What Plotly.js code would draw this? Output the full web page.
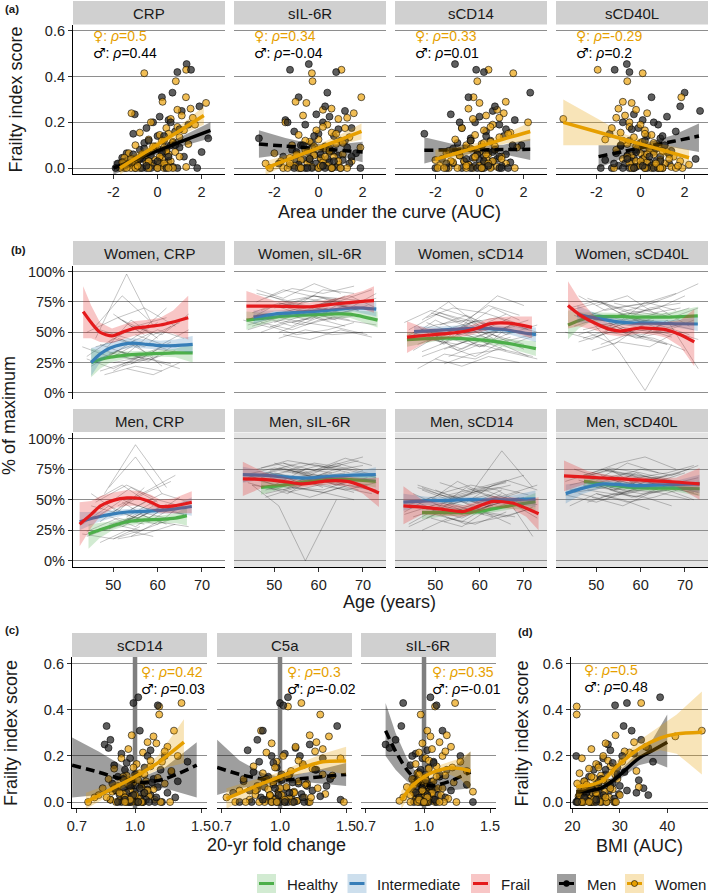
<!DOCTYPE html>
<html><head><meta charset="utf-8">
<script src="https://cdn.plot.ly/plotly-3.0.1.min.js"></script>
<style>html,body{margin:0;padding:0;background:#fff}#chart{width:709px;height:894px}</style>
</head><body><div id="chart"></div>
<script>
// ---------------- DATA ----------------
// Frailty index score per participant (shared by panels a, c, d)
const frailtyWomen = [0.43,0.415,0.38,0.31,0.29,0.285,0.26,0.255,0.24,0.23,
 0.215,0.20,0.19,0.175,0.165,0.155,0.145,0.135,0.125,0.115,
 0.105,0.10,0.09,0.085,0.08,0.07,0.065,0.06,0.055,0.05,
 0.045,0.04,0.035,0.03,0.03,0.025,0.02,0.02,0.015,0.01,
 0.01,0.005,0.0,0.0,0.0,0.0,0.0,0.0,0.0,0.0,
 0.22,0.18,0.15,0.12,0.11,0.095,0.075,0.06,0.05,0.04,0.03,0.02,0.01,0.0,0.0];
const frailtyMen = [0.455,0.43,0.42,0.33,0.31,0.25,0.235,0.225,0.21,0.20,
 0.19,0.175,0.16,0.15,0.14,0.13,0.12,0.11,0.10,0.095,
 0.09,0.08,0.075,0.07,0.065,0.06,0.055,0.05,0.045,0.04,
 0.04,0.035,0.03,0.03,0.025,0.02,0.02,0.015,0.01,0.01,
 0.005,0.0,0.0,0.0,0.0,0.0,0.0,0.0,0.0,0.0,
 0.27,0.2,0.17,0.14,0.12,0.1,0.085,0.07,0.06,0.05,0.04,0.03,0.02,0.01,0.0];

// (a) area under the curve, per marker
const aucMarkers = ['CRP','sIL-6R','sCD14','sCD40L'];
const aucCRPWomen = [1.3,-0.6,0.83,1.29,0.23,2.2,1.5,0.9,-1.18,1.1,0.6,-0.3,1.7,0.4,1.2,-0.8,0.1,1.0,-0.4,0.7,1.4,-1.0,0.3,0.0,-0.2,0.8,-1.3,0.5,-0.6,1.0,-1.5,0.2,-0.1,-0.9,0.6,-1.6,-0.5,0.1,-1.1,0.4,-0.3,1.3,-1.7,-1.2,-0.8,-0.4,0.0,0.3,-1.0,0.7,
 1.6,0.9,0.5,0.2,0.7,-0.2,0.4,-0.7,0.1,-1.2,-0.4,0.3,-0.9,-1.4,0.5];
const aucCRPMen = [1.32,1.52,0.9,0.68,0.2,1.1,-1.03,0.1,0.5,-0.2,1.4,-0.5,0.8,-1.1,0.0,2.3,0.3,-0.6,0.6,-0.1,1.0,-0.8,0.4,2.0,-1.4,0.2,-0.3,1.2,-1.6,-0.7,0.1,-1.0,0.5,-0.4,1.6,-1.8,-0.2,-1.2,0.3,-0.9,0.7,-1.5,-0.5,-1.0,0.0,-0.3,0.9,-1.9,1.8,-0.7,
 1.9,0.6,1.0,0.3,-0.4,0.8,-0.6,0.2,-1.1,0.5,-0.8,0.0,-1.3,-0.5,0.4];
const aucIL6RWomen = [1.04,-0.3,-0.27,1.94,-1.04,-0.55,0.59,0.2,1.6,-0.7,0.9,-1.5,0.4,1.2,-0.1,0.6,-0.9,1.4,0.0,-0.4,0.8,-1.2,1.9,0.3,-0.6,0.5,-2.0,1.1,-0.2,0.7,-1.3,0.1,-0.8,1.5,-1.7,0.2,-0.5,-2.4,0.9,-1.1,0.4,-0.3,-1.6,0.6,-0.9,1.3,-1.4,0.0,-2.2,1.0,
 1.3,0.2,0.8,-0.6,1.1,-0.2,0.5,-1.0,0.3,-0.4,0.9,-1.3,0.1,-0.8,0.6];
const aucIL6RMen = [-0.44,-1.29,0.8,0.4,-0.9,1.2,-0.1,0.5,-1.5,0.2,-0.6,1.5,-1.1,0.0,0.7,-2.7,1.0,-0.3,-0.8,0.3,1.3,-1.2,0.6,-0.5,1.7,-0.2,0.9,-1.6,0.1,-0.7,0.4,1.1,-1.0,-0.4,0.5,-0.1,1.4,-0.9,0.2,-1.3,0.8,-0.6,0.0,1.9,-0.3,0.6,-1.1,0.3,-0.8,1.0,
 0.3,-1.4,0.9,-0.2,1.2,-0.7,0.5,-1.0,0.1,1.5,-0.4,0.7,-1.8,0.2,-0.5];
const aucCD14Women = [0.41,1.53,-0.1,-0.27,1.19,0.0,-0.5,0.8,1.1,0.3,-0.3,2.2,0.6,-0.8,0.2,1.4,-0.2,0.9,-1.1,0.5,0.1,-0.6,1.7,-0.4,0.7,0.0,-1.5,0.4,-0.9,1.0,-0.2,0.3,-2.0,0.6,-0.7,-1.2,0.2,1.2,-0.5,0.0,-1.8,0.8,-0.3,-1.0,0.5,-1.4,0.1,1.6,-0.6,-1.9,
 0.9,0.5,1.3,-0.4,0.2,0.7,-0.9,0.3,-0.2,1.0,-1.3,0.4,-0.6,0.1,-1.6];
const aucCD14Men = [-1.11,-0.15,0.2,2.3,-0.5,0.6,-1.3,0.0,1.6,-0.2,0.9,-0.8,0.3,-2.5,1.1,-0.4,0.5,-1.0,1.9,0.1,-0.6,0.7,-1.4,0.4,-0.1,1.2,-0.9,0.2,-0.3,0.8,-1.7,0.0,0.6,-0.7,1.4,-1.2,0.3,-0.5,1.0,-0.2,0.5,-2.0,0.1,-0.8,0.9,-0.4,1.3,-1.5,0.2,-0.1,
 0.7,-0.9,1.2,0.3,-0.4,1.5,-1.2,0.6,-0.1,0.9,-0.6,0.2,-1.5,0.4,1.0];
const aucCD40LWomen = [-1.94,0.1,-0.6,1.85,-0.8,-0.4,-1.0,-0.2,0.3,-0.7,-3.5,-0.5,0.0,-1.3,0.2,-0.9,0.5,-0.3,-1.6,0.1,-0.6,0.8,-0.1,0.4,-1.1,1.2,0.0,0.6,-0.4,1.5,0.2,-0.8,0.9,1.8,-0.2,0.3,1.1,-0.5,2.2,0.7,0.0,1.4,-1.2,0.5,1.9,-0.3,0.8,1.6,0.2,1.0,
 -1.1,-0.5,0.2,-0.8,0.6,-0.2,1.0,0.3,-0.6,1.3,0.0,0.7,1.7,-0.4,0.9];
const aucCD40LMen = [-0.62,-1.17,-0.5,2.0,0.5,2.7,-0.3,1.2,0.1,-0.8,0.8,-0.1,1.6,-1.4,0.3,0.9,-0.5,0.0,1.1,-0.9,0.4,-0.2,1.4,0.6,-1.1,0.2,-0.6,0.9,-0.3,2.5,0.1,-1.6,0.7,-0.4,0.4,-0.7,1.3,0.0,-1.0,0.5,-0.2,0.8,-1.3,0.2,-0.5,1.0,-0.8,0.3,-1.8,0.6,
 1.8,0.6,-0.4,1.0,0.2,-0.9,0.7,-0.2,1.3,0.4,-0.6,0.9,-1.2,0.1,-0.3];
const rhoWomenAUC = ['0.5','0.34','0.33','-0.29'];
const rhoMenAUC = ['0.44','-0.04','0.01','0.2'];
// (a) fitted lines with confidence bands
const fitAucCRPWomen = {x:[-1.7,-0.75,0.2,1.15,2.1], y:[0.0,0.057,0.115,0.172,0.23], lo:[-0.03,0.037,0.1,0.148,0.19], hi:[0.03,0.077,0.13,0.196,0.27]};
const fitAucCRPMen = {x:[-2.0,-0.9,0.2,1.3,2.4], y:[0.0,0.041,0.083,0.124,0.165], lo:[-0.03,0.02,0.07,0.1,0.13], hi:[0.03,0.062,0.096,0.148,0.2]};
const fitAucIL6RWomen = {x:[-2.4,-1.3,-0.2,0.9,1.95], y:[0.0,0.04,0.081,0.121,0.16], lo:[-0.03,0.02,0.066,0.1,0.125], hi:[0.03,0.06,0.096,0.142,0.195]};
const fitAucIL6RMen = {x:[-2.7,-1.5,-0.35,0.8,2.0], y:[0.105,0.096,0.088,0.079,0.07], lo:[0.045,0.06,0.07,0.055,0.025], hi:[0.165,0.132,0.106,0.103,0.115]};
const fitAucCD14Women = {x:[-2.0,-0.9,0.15,1.2,2.3], y:[0.038,0.069,0.099,0.13,0.16], lo:[-0.005,0.045,0.083,0.108,0.12], hi:[0.08,0.093,0.115,0.152,0.2]};
const fitAucCD14Men = {x:[-2.5,-1.3,-0.1,1.1,2.3], y:[0.078,0.079,0.08,0.081,0.082], lo:[0.02,0.05,0.065,0.06,0.035], hi:[0.135,0.108,0.095,0.102,0.128]};
const fitAucCD40LWomen = {x:[-3.5,-2.1,-0.65,0.8,2.2], y:[0.2,0.162,0.123,0.084,0.045], lo:[0.1,0.1,0.1,0.06,0.01], hi:[0.3,0.224,0.146,0.108,0.08]};
const fitAucCD40LMen = {x:[-1.9,-0.75,0.4,1.5,2.65], y:[0.05,0.073,0.096,0.117,0.14], lo:[0.0,0.045,0.078,0.09,0.07], hi:[0.1,0.1,0.114,0.145,0.195]};

// (b) repeated measures: ages at visits and % of maximum
const womenAges = [[44,50,56,62],[45,51,57,63],[46,52,58,64],[47,53,59,66],[47,53,60,66],[48,54,60,67],[49,55,61,68],[50,56,62,69],[50,57,63,69],[51,57,63,70],[52,58,64,71],[53,59,65,72],[44,51,57,63],[46,52,59,65],[48,55,61,67],[49,55,62,68],[51,58,64,70],[52,59,65,71],[54,60,66,73],[55,61,67,73],
 [45,51,58,64],[47,54,60,67],[48,54,61,68],[50,56,63,70],[51,57,64,71],[53,60,66,73],[44,50,57,64],[46,53,59,66],[49,56,62,69],[52,58,65,72],[54,61,67,73],[43,49,55,62]];
const menAges = [[43,49,55,61],[44,50,57,63],[45,51,57,64],[46,52,58,65],[47,53,59,66],[47,54,60,66],[48,54,61,67],[49,55,61,68],[50,56,62,69],[50,57,63,70],[51,57,64,71],[52,58,65,72],[53,59,66,73],[44,50,56,62],[46,52,59,65],[48,55,61,68],[49,56,62,69],[51,58,64,70],[53,60,66,72],[54,60,67,73],
 [44,51,57,64],[45,52,58,65],[47,53,60,67],[48,55,62,68],[50,57,63,70],[51,58,64,71],[52,59,66,72],[53,60,66,73],[43,50,56,63],[46,53,59,66],[49,56,62,69],[54,61,67,73]];
const womenCRP = [[30,45,38],[22,35,28],[55,80,60],[40,32,50],[18,25,30],[35,60,45],[28,40,22],[65,50,70],[25,30,42],[45,38,55],[33,27,35],[20,15,25],[50,62,48],[38,44,30],[15,22,18],[42,55,62],[30,26,40],[60,48,58],[24,36,33],[48,40,52],
 [26,34,30],[52,44,58],[35,28,38],[18,30,24],[62,70,55],[40,52,45],[28,20,32],[45,98,55],[32,42,36],[22,28,20],[55,48,65],[38,30,44]];
const womenIL6R = [[60,72,65,70],[55,62,58,66],[75,85,80,78],[50,58,62,55],[68,75,70,80],[62,55,66,60],[80,72,85,82],[58,66,60,64],[70,78,74,68],[45,52,48,50],[65,60,72,70],[72,80,76,85],[52,60,56,62],[85,78,90,82],[60,66,70,64],[55,48,52,58],[74,70,78,76],[63,70,66,72],[58,64,60,56],[68,74,80,70],
 [66,74,70,76],[58,52,60,64],[78,86,82,88],[62,68,64,70],[50,58,54,48],[70,64,72,78],[56,62,68,60],[82,76,80,74],[64,70,74,68],[48,44,52,46],[72,78,70,82],[60,54,62,66]];
const womenCD14 = [[45,60,50,40],[35,48,55,42],[55,40,62,50],[30,38,45,35],[60,75,55,65],[42,50,38,46],[50,35,45,58],[28,22,30,25],[65,55,70,60],[40,52,48,36],[48,58,62,52],[38,30,42,48],[52,66,58,45],[20,32,28,38],[58,48,52,62],[44,40,50,55],[70,62,80,72],[36,45,40,30],[54,60,48,56],[46,38,56,50],
 [50,42,58,46],[34,44,38,50],[62,70,66,58],[44,36,48,40],[56,64,52,60],[30,40,34,28],[48,56,60,50],[40,50,46,54],[66,58,72,64],[24,32,36,30],[52,46,40,48],[58,68,62,56]];
const womenCD40L = [[70,60,65,58],[55,62,50,60],[80,68,72,75],[45,52,48,40],[62,70,58,66],[50,40,55,48],[65,58,75,68],[58,50,52,62],[72,80,66,70],[40,48,45,35],[60,66,70,55],[55,45,50,60],[68,75,62,58],[48,55,60,52],[62,35,2,40],[35,42,38,50],[75,65,70,80],[52,60,55,48],[58,46,60,20],[66,72,80,90],
 [64,56,60,66],[52,58,54,46],[78,70,74,82],[46,54,50,58],[60,66,62,70],[56,48,52,44],[70,76,68,64],[42,50,46,40],[66,60,70,74],[54,62,58,52],[74,68,62,70],[50,44,56,60]];
const menCRP = [[30,45,35],[20,28,40],[55,40,60],[35,50,42],[15,25,20],[42,60,48],[25,32,45],[60,85,55],[28,38,30],[40,55,65],[18,22,30],[48,35,52],[32,45,38],[22,30,25],[50,62,45],[38,28,42],[26,40,35],[45,58,70],[35,30,48],[20,32,28],
 [24,35,30],[45,38,50],[32,48,40],[55,95,60],[18,26,34],[40,32,45],[28,42,38],[36,50,44],[22,18,28],[48,62,52],[30,36,46],[42,55,48]];
const menIL6R = [[65,72,68,60],[70,62,75,72],[62,45,0,50],[75,80,72,78],[62,55,68,65],[68,74,70,62],[55,60,58,66],[72,65,70,70],[60,68,64,58],[80,72,78,85],[66,70,62,68],[58,52,60,55],[74,80,76,70],[64,58,66,72],[70,76,68,74],[52,60,56,50],[68,62,70,66],[76,70,80,74],[60,66,62,58],[72,78,74,68],
 [68,74,70,66],[62,58,64,70],[76,82,78,72],[58,64,62,56],[72,66,74,78],[64,70,66,62],[80,74,84,78],[56,62,58,64],[70,76,72,68],[66,60,68,72],[74,80,76,82],[60,56,62,58]];
const menCD14 = [[40,52,45,38],[30,42,50,45],[55,45,60,50],[48,38,42,55],[25,35,30,40],[60,50,58,65],[35,45,40,30],[50,65,55,48],[42,35,45,52],[58,48,62,70],[38,30,35,42],[45,55,90,60],[52,45,50,35],[28,38,32,45],[62,55,48,58],[44,50,40,36],[35,28,42,50],[55,62,58,45],[48,42,52,20],[40,48,55,62],
 [46,54,50,42],[36,44,40,48],[58,50,56,62],[42,48,54,46],[50,40,46,52],[64,56,60,54],[32,40,36,44],[54,60,66,58],[38,46,42,36],[60,52,58,64],[44,38,48,56],[52,58,50,46]];
const menCD40L = [[65,72,68,62],[58,62,55,60],[75,68,80,72],[55,50,58,65],[68,75,62,58],[62,58,66,70],[48,55,52,45],[72,80,85,75],[60,65,58,62],[55,48,52,60],[70,62,68,75],[64,70,60,56],[58,52,62,68],[45,55,50,42],[66,60,72,64],[62,68,65,58],[52,45,55,60],[75,70,65,72],[60,55,58,50],[68,75,70,78],
 [62,68,64,58],[56,60,52,58],[70,76,72,66],[58,54,60,64],[66,72,68,62],[52,58,56,50],[74,68,72,78],[60,66,62,56],[54,48,56,62],[68,74,70,66],[64,58,66,72],[58,64,60,54]];
// (b) smoothed trajectories by frailty group
const smoothWomenCRP = {
 healthy:{x:[45,47,49.3,52.5,56,60,64,67.9], y:[25,27.5,29.5,31,32,32.5,33,33], lo:[13,20,25,28,29.5,30,29.5,25], hi:[37,35,34,34,34.5,35,36.5,41]},
 intermediate:{x:[45,47,49.3,52,54.6,57.5,60.6,64,67.9], y:[25,32,37,40,41,40,39,39,40], lo:[14,25,32,36,37.5,36.5,35.5,35,33], hi:[37,39,42,44,45,44,43,44,47]},
 frail:{x:[43.2,45,47,49.7,52,54.5,57.5,60.6,63.5,66.9], y:[67,58,50,47,50,53,54.5,56,58.5,62], lo:[45,45,42,41,44,47,49,50,49,44], hi:[88,72,58,53,56,59,60,62,68,80]}};
const smoothWomenIL6R = {
 healthy:{x:[43.7,50,56,62,67,73.3], y:[60,62.5,64,65,65,60], lo:[52,59.5,61.5,62,62,54], hi:[67,65.5,66.5,68,68,67]},
 intermediate:{x:[45.3,50,56,62,68,73], y:[62.5,65,66.5,68,70,69], lo:[57,62,64,65.5,67,63], hi:[68,68,69,70.5,73,75]},
 frail:{x:[43.7,50,58,64,70,72.5], y:[71.5,71.5,71,73.5,75.5,76], lo:[60,67,67.5,69,69,66], hi:[84,76,74.5,78,84,88]}};
const smoothWomenCD14 = {
 healthy:{x:[43.6,50,55,60.9,66,72.7], y:[44,45,45,43.5,41,36.5], lo:[38,42.5,43,41,37.5,30.5], hi:[50,47.5,47,46,44.5,42.5]},
 intermediate:{x:[45.2,50,57,62,65.9,69,72.7], y:[50.5,51.5,53,53,52,50,48], lo:[46,48.5,50,50,49,46,42], hi:[55,54.5,56,56,55,54.5,54]},
 frail:{x:[43.6,48,53,57,60,62.2,66.7,71.8], y:[46,47.5,49,51,54,57,57.5,54], lo:[33,42,45,47,50,52,51,45], hi:[59,53,53,55,58,61.5,63,63]}};
const smoothWomenCD40L = {
 healthy:{x:[43.6,46,48.7,54,59.8,66,72.9], y:[56,59.5,62.5,63,62.5,62.5,63.5], lo:[44,53,58.5,60,59.5,59,56], hi:[68,66,66.5,66,65.5,66,71]},
 intermediate:{x:[45.7,50,54,58.3,63,68,72.9], y:[64.5,61.5,59,57.6,57.5,57,56.8], lo:[58,57.5,56,55,54.5,54,51], hi:[72,65.5,62,60.5,60.5,60,62.5]},
 frail:{x:[43.6,46,49.4,52.5,55.4,59.8,63,65.8,69,72.1], y:[72,65,58,53,51,53.5,53,52,48,42], lo:[53,55,52,48,46.5,49,48,45.5,38,22], hi:[92,78,64,58,55.5,58,58,58.5,60,69]}};
const smoothMenCRP = {
 healthy:{x:[44.4,47,50,53.1,57,60.6,64,66.6], y:[22,25.5,29,32,33.5,34,35,37], lo:[10,19,25.5,29,30.5,31,31,29], hi:[30,31,32.5,35,36.5,37,39,44]},
 intermediate:{x:[42.4,46,50,53.1,57,60.6,64,67.7], y:[32,35.5,38.5,40,40.5,41.3,42.5,44.5], lo:[25,31,35.5,37.5,38,38.5,39,37], hi:[40,40,41.5,42.5,43,44,46,52]},
 frail:{x:[42.4,45,47.1,50,53.1,56.1,58.5,60.6,63.6,67.7], y:[30,38,45,49.5,51.5,51,48,44.5,45,48], lo:[12,27,37,43,45,45,42,39,39,39], hi:[48,49,53,56,58,57,54,50,51,57]}};
const smoothMenIL6R = {
 healthy:{x:[47,52,57,62,67,72.9], y:[60,62,64.5,66.5,66.5,65], lo:[54,59.5,62,64,64,60], hi:[66,64.5,67,69,69,70]},
 intermediate:{x:[42.9,48,53,57.5,62,67,72.9], y:[70.5,70,68.5,67.8,69,70,70.5], lo:[64,67,66.5,66,67,68,64.5], hi:[77,73,70.5,69.5,71,72,76.5]},
 frail:{x:[42.9,48,53,56,59,62,66.5,70,73.6], y:[67,66.5,64.5,63,64,65.5,65,61,55.5], lo:[53,61,61,60,61,62.5,61,55,44], hi:[81,72,68,66,67,68.5,69,67.5,68]}};
const smoothMenCD14 = {
 healthy:{x:[47,52,56.3,60,63,67.5,72.6], y:[39.5,39.5,39.5,40.5,42.5,45.5,48.5], lo:[34,36.5,37,38,40,42.5,41.5], hi:[45,42.5,42,43,45,48.5,55.5]},
 intermediate:{x:[42.8,48,53,56.3,62,67,72.6], y:[48,49,49.5,50,50,50,50.7], lo:[41,45.5,47,47.5,47.5,47,44], hi:[55,52.5,52,52.5,52.5,53,57.5]},
 frail:{x:[42.8,47,52,56.3,60,63,67.4,70.5,73.3], y:[45,44,42,40.4,45,48.6,47.3,43,38.5], lo:[30,38,37,36,40.5,44,42.5,36,25], hi:[61,50,47,45,49.5,53,52,50,52]}};
const smoothMenCD40L = {
 healthy:{x:[47.2,52,58.3,63,68,73.3], y:[65,62.5,60,59.5,59.5,59], lo:[59,60,57.5,57,56.5,53], hi:[71,65,62.5,62,62.5,65]},
 intermediate:{x:[43.1,47,51.6,55,58.3,63,68,73.3], y:[55,59.5,63,62.5,61.5,62,62.5,63], lo:[47,55,60,60,59,59.5,59.5,55.5], hi:[62.5,64,66,65,64,64.5,65.5,70.5]},
 frail:{x:[42.7,48,53,58.3,63,68,73.3], y:[69.5,68.5,67.5,66.5,65.5,64.5,63], lo:[57,63.5,65,64,63,61,50], hi:[82,73.5,70,69,68,68,76]}};
const groupNames = ['Healthy','Intermediate','Frail'];

// (c) 20-yr fold change
const foldMarkers = ['sCD14','C5a','sIL-6R'];
const foldCD14Women = [1.33,1.16,1.16,1.27,0.98,1.12,1.08,1.14,1.22,0.96,1.05,1.30,0.92,1.18,1.01,1.10,0.88,1.25,1.03,0.95,1.15,0.85,1.07,0.99,1.20,0.90,1.04,0.82,1.12,0.97,0.87,1.06,0.93,1.00,0.80,1.09,0.94,0.78,1.02,0.86,1.13,0.91,0.75,0.98,1.05,0.89,1.17,0.95,1.02,1.24,
 1.20,1.10,0.99,1.06,0.93,1.02,0.96,0.88,1.08,0.91,1.00,0.84,0.97,1.04,0.94];
const foldCD14Men = [1.02,0.99,1.15,0.84,1.03,0.83,0.85,1.10,0.92,1.20,0.97,1.38,0.88,1.06,0.94,1.25,1.01,0.90,1.12,0.96,1.30,0.87,1.04,0.98,1.15,0.93,1.08,0.89,1.00,1.22,0.95,1.05,0.91,1.10,0.98,1.28,0.94,1.03,0.86,1.07,0.99,1.18,0.92,1.01,0.96,1.13,0.90,1.05,0.97,1.09,
 0.86,1.08,0.95,1.17,1.00,0.93,1.11,0.97,1.03,0.89,1.06,0.99,1.14,0.94,1.02];
const foldC5aWomen = [1.14,1.05,1.28,0.89,1.20,1.35,1.25,0.95,1.10,1.30,0.92,1.02,1.45,0.98,1.15,0.85,1.22,1.07,0.90,1.38,1.00,0.80,1.12,0.96,1.18,0.87,1.04,1.26,0.93,0.78,1.09,0.99,1.32,0.86,1.01,0.94,1.16,0.72,1.06,0.97,0.83,1.11,1.48,0.91,1.03,0.76,1.20,0.95,1.08,0.88,
 1.24,1.12,0.97,1.30,1.05,0.91,1.17,1.00,0.86,1.09,0.94,1.21,1.03,0.81,0.98];
const foldC5aMen = [1.05,1.00,1.02,1.42,0.90,1.20,1.10,0.82,1.03,0.95,1.30,0.88,1.15,0.98,1.25,0.85,1.06,0.93,1.36,1.01,0.80,1.12,0.96,1.18,0.91,1.04,0.87,1.22,0.99,1.08,0.75,1.14,0.94,1.02,1.28,0.89,1.07,0.97,1.45,0.92,1.11,0.84,1.00,1.19,0.95,1.05,0.78,1.16,0.98,1.09,
 0.87,1.13,0.96,1.24,1.01,0.92,1.08,1.33,0.97,0.83,1.06,0.99,1.15,0.90,1.03];
const foldIL6RWomen = [1.21,1.07,0.98,1.02,1.15,1.04,1.10,0.99,1.18,1.05,0.97,1.12,1.01,1.25,0.95,1.08,1.03,1.30,0.96,1.14,1.00,0.93,1.06,1.20,0.98,1.02,0.90,1.09,1.04,0.99,1.35,0.94,1.01,1.11,0.97,1.05,0.88,1.00,1.16,0.95,1.03,0.86,1.07,0.99,1.22,0.92,1.02,0.96,1.13,1.01,
 1.14,1.03,1.19,0.97,1.08,1.01,0.94,1.12,0.99,1.05,0.92,1.02,0.97,1.10,1.00];
const foldIL6RMen = [1.04,0.88,1.08,0.87,1.12,0.79,0.81,1.02,0.95,1.25,0.99,1.06,0.92,1.03,1.15,0.97,1.01,1.10,0.94,1.00,1.05,0.98,1.30,0.96,1.02,0.99,1.07,0.93,1.01,1.04,0.97,1.00,1.09,0.95,1.03,0.98,1.14,1.01,0.96,1.06,0.99,1.02,0.94,1.00,1.35,0.97,1.03,0.99,1.08,1.01,
 0.84,0.93,1.06,0.98,1.10,1.01,0.96,1.04,0.99,1.18,0.95,1.02,0.97,1.07,1.00];
const rhoWomenFold = ['0.42','0.3','0.35'];
const rhoMenFold = ['0.03','-0.02','-0.01'];
const fitFoldCD14Women = {x:[0.74,0.85,1.0,1.15,1.35], y:[0.0,0.05,0.11,0.17,0.26], lo:[-0.03,0.025,0.09,0.14,0.17], hi:[0.04,0.075,0.13,0.2,0.36]};
const fitFoldCD14Men = {x:[0.68,0.8,0.92,1.05,1.2,1.46], y:[0.16,0.13,0.1,0.085,0.1,0.16], lo:[0.02,0.03,0.05,0.06,0.06,0.02], hi:[0.28,0.22,0.16,0.11,0.15,0.26]};
const fitFoldC5aWomen = {x:[0.72,0.85,1.0,1.15,1.3,1.5], y:[0.015,0.065,0.11,0.15,0.175,0.178], lo:[-0.03,0.035,0.09,0.125,0.14,0.12], hi:[0.06,0.095,0.13,0.175,0.21,0.24]};
const fitFoldC5aMen = {x:[0.68,0.78,0.9,1.0,1.2,1.5], y:[0.15,0.12,0.1,0.095,0.105,0.12], lo:[0.03,0.06,0.075,0.08,0.085,0.07], hi:[0.27,0.18,0.125,0.11,0.13,0.17]};
const fitFoldIL6RWomen = {x:[0.87,0.93,1.0,1.08,1.17,1.25,1.33], y:[0.01,0.07,0.11,0.135,0.148,0.145,0.135], lo:[-0.03,0.045,0.095,0.115,0.12,0.1,0.05], hi:[0.05,0.095,0.125,0.155,0.175,0.19,0.22]};
const fitFoldIL6RMen = {x:[0.79,0.84,0.9,0.97,1.05,1.17,1.33], y:[0.31,0.22,0.14,0.085,0.07,0.09,0.13], lo:[0.2,0.14,0.09,0.06,0.05,0.05,0.06], hi:[0.43,0.3,0.19,0.11,0.09,0.13,0.22]};

// (d) BMI area under the curve
const bmiWomen = [34.5,20.9,20.9,47.3,29.1,41.7,33.0,27.0,35.5,24.0,32.0,26.5,22.0,30.5,25.0,28.0,23.5,33.5,21.5,26.0,24.5,29.5,22.5,27.5,21.0,25.5,34.0,23.0,28.5,21.8,26.8,24.2,22.2,30.0,25.2,21.3,27.8,23.2,24.8,22.8,26.2,21.6,28.8,23.8,25.8,22.4,27.2,24.6,21.2,29.2,
 31.0,27.5,25.5,29.0,24.0,26.5,23.0,28.0,22.5,25.0,21.5,27.0,24.5,22.0,23.5];
const bmiMen = [38.5,31.5,29.0,30.8,32.5,27.5,36.0,28.0,33.0,20.8,26.5,37.0,25.5,29.5,24.5,31.0,27.0,23.5,26.0,34.0,22.5,28.5,25.0,30.0,24.0,35.0,23.0,27.8,22.0,33.5,25.8,29.8,21.5,36.0,24.8,26.8,22.8,28.8,21.2,25.2,23.2,27.2,22.2,26.2,24.2,20.8,29.0,23.8,21.8,25.0,
 34.5,30.5,28.5,27.0,29.5,26.0,25.5,28.0,24.0,31.5,23.0,26.5,22.5,25.0,21.0];
const rhoWomenBMI = '0.5', rhoMenBMI = '0.48';
const fitBmiWomen = {x:[20.8,24,26.5,29.4,34.3,38.5,42,47.3], y:[0.067,0.075,0.095,0.155,0.235,0.278,0.296,0.303], lo:[0.035,0.058,0.08,0.13,0.2,0.225,0.21,0.12], hi:[0.1,0.092,0.11,0.18,0.27,0.33,0.38,0.48]};
const fitBmiMen = {x:[20.8,23.5,26,29,34,37,40], y:[0.045,0.048,0.06,0.1,0.19,0.225,0.26], lo:[0.02,0.03,0.045,0.085,0.16,0.175,0.15], hi:[0.07,0.066,0.075,0.115,0.22,0.275,0.38]};

// ---------------- DRAWING ----------------
const FONT = '"Liberation Sans", Arial, Helvetica, sans-serif';
const W = 709, H = 894;
const fx = v => v / W, fy = v => 1 - v / H;
const C = {women:'#E69F00', men:'#000000', healthy:'#4DAF4A', intermediate:'#377EB8', frail:'#E41A1C'};
const FILL = {women:'rgba(230,159,0,0.28)', men:'rgba(0,0,0,0.38)', healthy:'rgba(77,175,74,0.25)', intermediate:'rgba(55,126,184,0.25)', frail:'rgba(228,26,28,0.25)'};
const PT = {women:'rgba(235,165,20,0.72)', men:'rgba(40,40,40,0.75)'};
const TICKFONT = {family:FONT, size:14.5, color:'#222'};
const GRID = '#8e8e8e';

const traces = [];
const layout = {width:W, height:H, margin:{l:0,r:0,t:0,b:0}, paper_bgcolor:'#fff', plot_bgcolor:'rgba(0,0,0,0)',
  showlegend:false, font:{family:FONT, size:14.5, color:'#1a1a1a'}, shapes:[], annotations:[]};

let nAx = 0;
function addAxes(xp, yp, xr, yr, o) {
  nAx++;
  const s = nAx === 1 ? '' : String(nAx);
  layout['xaxis' + s] = {domain:[fx(xp[0]), fx(xp[1])], range:xr, type:o.xtype || 'linear', anchor:'y' + s,
    showgrid:false, zeroline:false, showline:!!o.xline, linecolor:'#000', linewidth:1.1,
    ticks:o.xline ? 'outside' : '', ticklen:4, tickwidth:1, tickcolor:'#333', showticklabels:!!o.xline,
    tickmode:'array', tickvals:o.xt, ticktext:o.xtt, tickfont:TICKFONT, fixedrange:true};
  layout['yaxis' + s] = {domain:[fy(yp[1]), fy(yp[0])], range:yr, anchor:'x' + s,
    showgrid:true, gridcolor:GRID, gridwidth:1, zeroline:false, showline:!!o.yline, linecolor:'#000', linewidth:1.1,
    ticks:o.yline ? 'outside' : '', ticklen:4, tickwidth:1, tickcolor:'#333', showticklabels:!!o.yline,
    tickmode:'array', tickvals:o.yt, ticktext:o.ytt, tickfont:TICKFONT, fixedrange:true};
  return {xa:'x' + s, ya:'y' + s};
}
function txt(xp, yp, text, o) {
  o = o || {};
  layout.annotations.push({xref:'paper', yref:'paper', x:fx(xp), y:fy(yp), text:text, showarrow:false,
    xanchor:o.xanchor || 'center', yanchor:'middle', textangle:o.angle || 0,
    font:{family:FONT, size:o.size || 15, color:o.color || '#1a1a1a'}});
}
function rect(x0, x1, y0, y1, fill, layer) {
  layout.shapes.push({type:'rect', xref:'paper', yref:'paper', x0:fx(x0), x1:fx(x1), y0:fy(y1), y1:fy(y0),
    fillcolor:fill, line:{width:0}, layer:layer || 'below'});
}
function strip(x0, x1, y0, y1, label) { rect(x0, x1, y0, y1, '#d0d0d0'); txt((x0 + x1) / 2, (y0 + y1) / 2 + 0.5, label, {size:15}); }
function points(ax, xw, yw, xm, ym) {
  const x = [], y = [], col = [];
  const n = Math.max(xw.length, xm.length);
  for (let i = 0; i < n; i++) {
    if (i < xm.length) { x.push(xm[i]); y.push(ym[i]); col.push(PT.men); }
    if (i < xw.length) { x.push(xw[i]); y.push(yw[i]); col.push(PT.women); }
  }
  traces.push({type:'scatter', mode:'markers', x:x, y:y, xaxis:ax.xa, yaxis:ax.ya, hoverinfo:'skip',
    marker:{size:7, color:col, line:{color:'rgba(0,0,0,0.85)', width:0.7}}});
}
function band(ax, f, fill) {
  traces.push({type:'scatter', mode:'lines', x:f.x.concat(f.x.slice().reverse()), y:f.hi.concat(f.lo.slice().reverse()),
    fill:'toself', fillcolor:fill, line:{width:0}, xaxis:ax.xa, yaxis:ax.ya, hoverinfo:'skip'});
}
function curve(ax, f, color, width, dash) {
  traces.push({type:'scatter', mode:'lines', x:f.x, y:f.y, xaxis:ax.xa, yaxis:ax.ya, hoverinfo:'skip',
    line:{color:color, width:width, dash:dash || 'solid', shape:'spline', smoothing:0.7}});
}
const SYM = s => '<span style="font-family:DejaVu Sans">' + s + '</span>';
function rho(xp, yF, yM, rw, rm) {
  txt(xp, yF, SYM('\u2640') + ': <i>\u03C1</i>=' + rw, {xanchor:'left', color:C.women, size:14});
  txt(xp, yM, SYM('\u2642') + ': <i>\u03C1</i>=' + rm, {xanchor:'left', color:'#000', size:14});
}

const colX = [[73,225],[234,386],[395,547],[556,708]];
const FI_T = {yt:[0,0.2,0.4,0.6], ytt:['0.0','0.2','0.4','0.6']};

// ---- (a)
const aucW = [aucCRPWomen, aucIL6RWomen, aucCD14Women, aucCD40LWomen];
const aucM = [aucCRPMen, aucIL6RMen, aucCD14Men, aucCD40LMen];
const fitAW = [fitAucCRPWomen, fitAucIL6RWomen, fitAucCD14Women, fitAucCD40LWomen];
const fitAM = [fitAucCRPMen, fitAucIL6RMen, fitAucCD14Men, fitAucCD40LMen];
for (let i = 0; i < 4; i++) {
  const ax = addAxes(colX[i], [25,174], [-3.83,3.06], [-0.026,0.626],
    Object.assign({xline:true, yline:i === 0, xt:[-2,0,2], xtt:['-2','0','2']}, FI_T));
  points(ax, aucW[i], frailtyWomen, aucM[i], frailtyMen);
  band(ax, fitAM[i], FILL.men); curve(ax, fitAM[i], C.men, 3.5, i === 0 ? 'solid' : '9px,5px');
  band(ax, fitAW[i], FILL.women); curve(ax, fitAW[i], C.women, 3.5);
  strip(colX[i][0], colX[i][1], 1, 24.5, aucMarkers[i]);
  rho(colX[i][0] + 18, 36.5, 53, rhoWomenAUC[i], rhoMenAUC[i]);
}
txt(12, 9, '<b>(a)</b>', {size:11.5});
txt(15, 99.5, 'Frailty index score', {angle:-90, size:18});
txt(389.5, 212, 'Area under the curve (AUC)', {size:18});

// ---- (b)
const bRows = [
  {sex:'Women', ages:womenAges, y:[265.5,399], strip:[241,265], vals:[womenCRP,womenIL6R,womenCD14,womenCD40L], smooth:[smoothWomenCRP,smoothWomenIL6R,smoothWomenCD14,smoothWomenCD40L], grey:[false,false,false,false], xline:false},
  {sex:'Men', ages:menAges, y:[432.5,567], strip:[409,432], vals:[menCRP,menIL6R,menCD14,menCD40L], smooth:[smoothMenCRP,smoothMenIL6R,smoothMenCD14,smoothMenCD40L], grey:[false,true,true,true], xline:true}
];
bRows.forEach(row => {
  for (let i = 0; i < 4; i++) {
    const ax = addAxes(colX[i], row.y, [40.9,75.2], [-5,105],
      {xline:row.xline, yline:i === 0, xt:[50,60,70], xtt:['50','60','70'], yt:[0,25,50,75,100], ytt:['0%','25%','50%','75%','100%']});
    if (row.grey[i]) rect(colX[i][0], colX[i][1], row.y[0], row.y[1], '#e4e4e4');
    const sx = [], sy = [];
    row.vals[i].forEach((v, k) => {
      for (let j = 0; j < v.length; j++) { sx.push(row.ages[k][j]); sy.push(v[j]); }
      sx.push(null); sy.push(null);
    });
    traces.push({type:'scatter', mode:'lines', x:sx, y:sy, xaxis:ax.xa, yaxis:ax.ya, hoverinfo:'skip', connectgaps:false,
      line:{color:'rgba(0,0,0,0.26)', width:0.9}});
    const sm = row.smooth[i];
    [['healthy',sm.healthy],['intermediate',sm.intermediate],['frail',sm.frail]].forEach(([g, f]) => {
      band(ax, f, FILL[g]); curve(ax, f, C[g], 3.2);
    });
    strip(colX[i][0], colX[i][1], row.strip[0], row.strip[1], row.sex + ', ' + aucMarkers[i]);
  }
});
txt(18, 250, '<b>(b)</b>', {size:11.5});
txt(9, 416, '% of maximum', {angle:-90, size:18});
txt(389, 602, 'Age (years)', {size:18});

// ---- (c)
const colC = [[72,207],[217,352],[361,496]];
const foldW = [foldCD14Women, foldC5aWomen, foldIL6RWomen];
const foldM = [foldCD14Men, foldC5aMen, foldIL6RMen];
const fitFW = [fitFoldCD14Women, fitFoldC5aWomen, fitFoldIL6RWomen];
const fitFM = [fitFoldCD14Men, fitFoldC5aMen, fitFoldIL6RMen];
const rhoXC = [139, 285, 430];
for (let i = 0; i < 3; i++) {
  const ax = addAxes(colC[i], [657,808], [-0.1679,0.1918], [-0.026,0.63],
    Object.assign({xtype:'log', xline:true, yline:i === 0, xt:[0.7,1.0,1.5], xtt:['0.7','1.0','1.5']}, FI_T));
  traces.push({type:'scatter', mode:'lines', x:[1,1], y:[-1,1], xaxis:ax.xa, yaxis:ax.ya, hoverinfo:'skip',
    line:{color:'#7f7f7f', width:4.5}});
  points(ax, foldW[i], frailtyWomen, foldM[i], frailtyMen);
  band(ax, fitFM[i], FILL.men); curve(ax, fitFM[i], C.men, 3.5, '9px,5px');
  band(ax, fitFW[i], FILL.women); curve(ax, fitFW[i], C.women, 3.5);
  strip(colC[i][0], colC[i][1], 633, 657, foldMarkers[i]);
  rho(rhoXC[i], 672, 688.5, rhoWomenFold[i], rhoMenFold[i]);
}
txt(12, 630, '<b>(c)</b>', {size:11.5});
txt(11, 733, 'Frailty index score', {angle:-90, size:18});
txt(276, 845, '20-yr fold change', {size:18});

// ---- (d)
{
  const ax = addAxes([571,708], [657,808], [19.7,48.6], [-0.026,0.63],
    Object.assign({xline:true, yline:true, xt:[20,30,40], xtt:['20','30','40']}, FI_T));
  points(ax, bmiWomen, frailtyWomen, bmiMen, frailtyMen);
  band(ax, fitBmiMen, FILL.men); curve(ax, fitBmiMen, C.men, 3.5);
  band(ax, fitBmiWomen, FILL.women); curve(ax, fitBmiWomen, C.women, 3.5);
  rho(582, 670, 686.5, rhoWomenBMI, rhoMenBMI);
}
txt(525, 632, '<b>(d)</b>', {size:11.5});
txt(521.5, 734, 'Frailty index score', {angle:-90, size:18});
txt(639, 846, 'BMI (AUC)', {size:18});

// ---- legend (key boxes + labels)
const legendItems = [
  {x:257, label:groupNames[0], c:C.healthy, f:FILL.healthy, dot:false},
  {x:347.5, label:groupNames[1], c:C.intermediate, f:FILL.intermediate, dot:false},
  {x:471, label:groupNames[2], c:C.frail, f:FILL.frail, dot:false},
  {x:557, label:'Men', c:C.men, f:FILL.men, dot:true},
  {x:625, label:'Women', c:C.women, f:FILL.women, dot:true}
];
legendItems.forEach(it => {
  rect(it.x, it.x + 19, 874, 893, it.f, 'above');
  layout.shapes.push({type:'line', xref:'paper', yref:'paper', x0:fx(it.x + 2), x1:fx(it.x + 17), y0:fy(883.5), y1:fy(883.5),
    line:{color:it.c, width:3}, layer:'above'});
  if (it.dot) layout.shapes.push({type:'circle', xref:'paper', yref:'paper', x0:fx(it.x + 6.5), x1:fx(it.x + 12.5), y0:fy(886.5), y1:fy(880.5),
    fillcolor:it.c, line:{color:'#000', width:0.6}, layer:'above'});
  txt(it.x + 28, 884, it.label, {xanchor:'left', size:15});
});

Plotly.newPlot('chart', traces, layout, {staticPlot:true, displayModeBar:false});
</script></body></html>
